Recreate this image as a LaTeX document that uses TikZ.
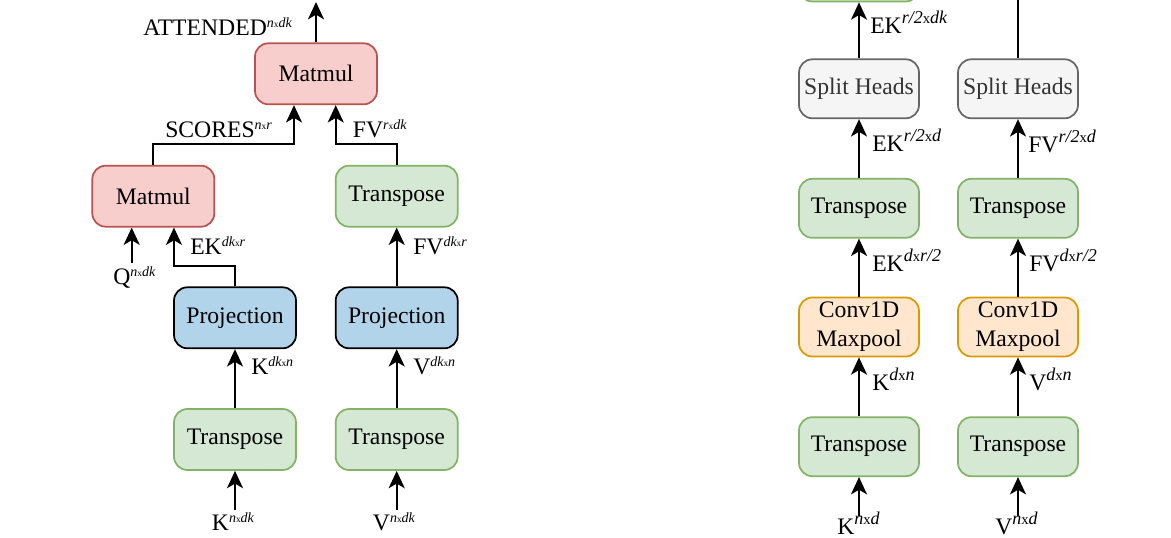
\documentclass[tikz,border=0pt]{standalone}
\usepackage{fontspec}
\setmainfont{Liberation Serif}
\usetikzlibrary{arrows.meta}
\definecolor{redf}{HTML}{F8CECC}\definecolor{reds}{HTML}{B85450}
\definecolor{grnf}{HTML}{D5E8D4}\definecolor{grns}{HTML}{82B366}
\definecolor{bluf}{HTML}{B1D4EA}
\definecolor{gryf}{HTML}{F5F5F5}\definecolor{grys}{HTML}{666666}\definecolor{gryt}{HTML}{333333}
\definecolor{orgf}{HTML}{FFE6CC}\definecolor{orgs}{HTML}{D79B00}
\newcommand{\lsup}[1]{\raisebox{6pt}{\fontsize{10.5}{11}\selectfont\itshape #1}}
\newcommand{\tinyx}{{\fontsize{7}{7}\selectfont\upshape x}}
\newcommand{\rsup}[1]{\raisebox{7.5pt}{\fontsize{13.5}{14}\selectfont\itshape #1}}
\newcommand{\smx}{{\fontsize{11}{11}\selectfont\upshape x}}
\begin{document}
\begin{tikzpicture}[x=0.75pt,y=-0.75pt,
  nbox/.style={rectangle, rounded corners=10pt, line width=1.3pt, minimum width=91.5pt, minimum height=45.75pt, inner sep=0pt, font=\fontsize{17.75}{21.5}\selectfont, align=center},
  rnbox/.style={nbox, minimum width=90pt, minimum height=44.25pt},
  redb/.style={nbox, fill=redf, draw=reds},
  grnb/.style={nbox, fill=grnf, draw=grns},
  blub/.style={nbox, fill=bluf, draw=black},
  grnr/.style={rnbox, fill=grnf, draw=grns},
  gryr/.style={rnbox, fill=gryf, draw=grys, text=gryt},
  orgr/.style={rnbox, fill=orgf, draw=orgs},
  plain/.style={line width=1.5pt},
  arr/.style={line width=1.5pt, -{Stealth[length=13pt,width=12pt,inset=3.5pt]}},
  lbl/.style={inner sep=0pt, anchor=base west, font=\fontsize{17.75}{20}\selectfont},
]
\useasboundingbox (0,0) rectangle (1171,538);
\clip (0,0) rectangle (1171,538);

% ---------- left panel ----------
\node[redb] (mm2) at (316,73.8) {Matmul};
\node[redb] (mm1) at (153.3,196.2) {Matmul};
\node[grnb] (trFV) at (396.7,196.2) {Transpose};
\node[blub] (prK) at (235,317.8) {Projection};
\node[blub] (prV) at (396.7,317.8) {Projection};
\node[grnb] (trK) at (235,439.5) {Transpose};
\node[grnb] (trV) at (396.7,439.5) {Transpose};

\coordinate (outA) at (316,2);
\coordinate (qin) at (131.7,263.5);
\coordinate (kin) at (235,510);
\coordinate (vin) at (396.7,510);

\draw[arr] (mm2.north) -- (outA);
\draw[arr] (mm1.north) -- ++(0,-20.7) -| ([xshift=-16.5pt]mm2.south);
\draw[arr] (trFV.north) -- ++(0,-20.7) -| ([xshift=14.8pt]mm2.south);
\draw[arr] (qin) -- (qin |- mm1.south);
\draw[arr] (prK.north) -- ++(0,-20) -| ([xshift=15.5pt]mm1.south);
\draw[arr] (prV.north) -- (trFV.south);
\draw[arr] (trK.north) -- (prK.south);
\draw[arr] (trV.north) -- (prV.south);
\draw[arr] (kin) -- (trK.south);
\draw[arr] (vin) -- (trV.south);

\node[lbl] (lAtt) at (143,36) {ATTENDED\lsup{n\tinyx dk}};
\node[lbl] (lSc) at (165,137.5) {SCORES\lsup{n\tinyx r}};
\node[lbl] (lFVa) at (352.7,137.5) {FV\lsup{r\tinyx dk}};
\node[lbl] (lEKa) at (190,255) {EK\lsup{dk\tinyx r}};
\node[lbl] (lFVb) at (413,255) {FV\lsup{dk\tinyx r}};
\node[lbl] (lQ) at (113,285) {Q\lsup{n\tinyx dk}};
\node[lbl] (lKa) at (251,374) {K\lsup{dk\tinyx n}};
\node[lbl] (lVa) at (413,374) {V\lsup{dk\tinyx n}};
\node[lbl] (lKb) at (211.7,530) {K\lsup{n\tinyx dk}};
\node[lbl] (lVb) at (372.7,530) {V\lsup{n\tinyx dk}};

% ---------- right panel ----------
\node[grnr] (topL) at (859,-28) {};
\node[gryr] (shL) at (859,88.8) {Split Heads};
\node[gryr] (shR) at (1018,88.8) {Split Heads};
\node[grnr] (trLb) at (859,208.3) {Transpose};
\node[grnr] (trRb) at (1018,208.3) {Transpose};
\node[orgr] (cvL) at (859,327) {Conv1D\\Maxpool};
\node[orgr] (cvR) at (1018,327) {Conv1D\\Maxpool};
\node[grnr] (trLa) at (859,446.7) {Transpose};
\node[grnr] (trRa) at (1018,446.7) {Transpose};

\coordinate (topR) at (1018,-10);
\coordinate (kin2) at (859,515.5);
\coordinate (vin2) at (1018,515.5);

\draw[arr] (shL.north) -- (topL.south);
\draw[plain] (shR.north) -- (topR);
\draw[arr] (trLb.north) -- (shL.south);
\draw[arr] (trRb.north) -- (shR.south);
\draw[arr] (cvL.north) -- (trLb.south);
\draw[arr] (cvR.north) -- (trRb.south);
\draw[arr] (trLa.north) -- (cvL.south);
\draw[arr] (trRa.north) -- (cvR.south);
\draw[arr] (kin2) -- (trLa.south);
\draw[arr] (vin2) -- (trRa.south);

\node[lbl] (rEKa) at (870,34) {EK\rsup{r/2\smx dk}};
\node[lbl] (rEKb) at (872,151.7) {EK\rsup{r/2\smx d}};
\node[lbl] (rFVb) at (1028,152.5) {FV\rsup{r/2\smx d}};
\node[lbl] (rEKc) at (872,271.7) {EK\rsup{d\smx r/2}};
\node[lbl] (rFVc) at (1029,272) {FV\rsup{d\smx r/2}};
\node[lbl] (rK) at (872,390.7) {K\rsup{d\smx n}};
\node[lbl] (rV) at (1029,390.7) {V\rsup{d\smx n}};
\node[lbl] (rKb) at (837,534) {K\rsup{n\smx d}};
\node[lbl] (rVb) at (995,534) {V\rsup{n\smx d}};
\end{tikzpicture}
\end{document}
